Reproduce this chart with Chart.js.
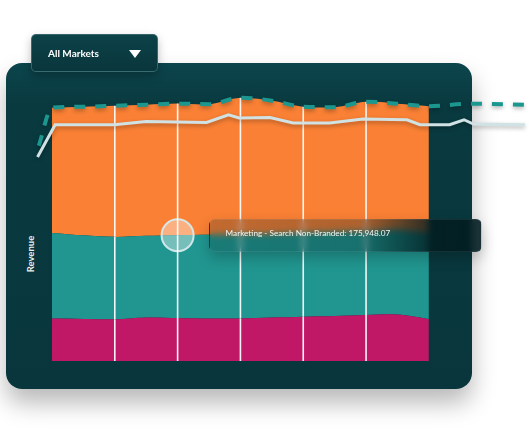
<!DOCTYPE html>
<html>
<head>
<meta charset="utf-8">
<script src="https://cdn.jsdelivr.net/npm/chart.js@4/dist/chart.umd.min.js"></script>
<style>
  html,body{margin:0;padding:0;background:#fff;}
  body{width:532px;height:446px;overflow:hidden;position:relative;font-family:Lato,"Open Sans",sans-serif;}
  #panel{position:absolute;left:6px;top:63px;width:466px;height:326px;border-radius:16px;
    background:linear-gradient(180deg,#0c454c 0px,#093a40 40px,#08363c 100%);
    box-shadow:0 14px 24px rgba(0,0,0,0.28);}
  #ylabel{position:absolute;left:29.5px;top:254px;transform:translate(-50%,-50%) rotate(-90deg);
    color:#e8f0f0;font-size:9.5px;font-weight:700;white-space:nowrap;}
  #c{position:absolute;left:0;top:0;}
  #dropdown{position:absolute;left:31px;top:34px;width:127px;height:38px;box-sizing:border-box;border-radius:5px;
    background:linear-gradient(180deg,#0c4248,#09363c);border:1px solid rgba(140,190,190,0.35);
    box-shadow:0 4px 10px rgba(0,0,0,0.25);}
  #dropdown span{position:absolute;left:16px;top:50%;transform:translateY(-50%);color:#fff;font-size:10px;font-weight:700;}
  #dropdown i{position:absolute;left:97px;top:15px;width:0;height:0;border-left:6.5px solid transparent;border-right:6.5px solid transparent;border-top:8px solid #fff;}
  #tip{position:absolute;height:33px;width:273px;box-sizing:border-box;border-radius:6px;
    background:linear-gradient(90deg,rgba(2,28,32,0.22) 0%,rgba(2,28,32,0.3) 55%,rgba(2,28,32,0.85) 82%,rgba(2,28,32,0.9) 100%);
    backdrop-filter:blur(3px);-webkit-backdrop-filter:blur(3px);
    border:1px solid rgba(255,255,255,0.08);box-shadow:0 6px 14px rgba(0,0,0,0.22);
    color:#f2f6f6;font-size:8.2px;padding:0 0 4px 16px;display:flex;align-items:center;white-space:nowrap;}
</style>
</head>
<body>
<div id="panel"></div>
<div id="ylabel">Revenue</div>
<canvas id="c" width="532" height="446"></canvas>
<div id="dropdown"><span>All Markets</span><i></i></div>
<div id="tip"></div>
<script>
// ---- data ----
const periods = [0, 0.5, 1, 1.5, 2, 2.5, 3, 3.5, 4, 4.5, 5, 5.5, 6];
const seriesNames = ['Marketing - Display', 'Marketing - Search Non-Branded', 'Marketing - Search Branded'];
const displayRev    = [90500, 89500, 88800, 92700, 91600, 90500, 90500, 92700, 94400, 95900, 98000, 99000, 89500];
const nonBrandedRev = [182100, 177900, 175300, 173600, 175948.07, 177900, 178900, 177900, 178300, 178900, 177900, 181000, 183200];
const brandedRev    = [266300, 273700, 279000, 279000, 280100, 278000, 290700, 283300, 268400, 265200, 275800, 267300, 269400];
const forecastName = 'Forecast';
const forecastX   = [-0.21, 0, 0.5, 1, 1.5, 2, 2.5, 3, 3.5, 4, 4.5, 5, 5.5, 6, 6.65, 7.56];
const forecastRev = [458000, 538900, 541100, 543100, 545300, 547600, 546400, 560100, 553900, 541100, 540000, 551700, 547300, 542100, 547400, 545300];
const targetName = 'Target';
const targetX   = [-0.23, 0.05, 0.99, 1.5, 2.46, 2.81, 2.98, 3.47, 3.84, 4.42, 4.95, 5.65, 5.86, 6.33, 6.56, 6.71, 7.53];
const targetRev = [433900, 502700, 502700, 509700, 507600, 524000, 517000, 518200, 506300, 506300, 514800, 513300, 502700, 502700, 513300, 504200, 502700];
const gridPeriods = [1, 2, 3, 4, 5];
const hoverIndex = 4;

const pts = (xs, ys) => xs.map((x, i) => ({x: x, y: ys[i]}));

const areaGrid = {
  id: 'areaGrid',
  beforeDatasetDraw(chart, args) {
    if (args.index >= 3) {
      const c = chart.ctx; c.save();
      c.shadowColor = 'rgba(0,0,0,0.3)'; c.shadowBlur = 4; c.shadowOffsetY = 2;
    }
  },
  afterDatasetDraw(chart, args) {
    if (args.index >= 3) { chart.ctx.restore(); return; }
    if (args.index === 0) {
      const c = chart.ctx, xs = chart.scales.x, a = chart.chartArea;
      c.save();
      c.globalCompositeOperation = 'source-atop';
      c.strokeStyle = 'rgba(255,255,255,0.95)';
      c.lineWidth = 1.6;
      gridPeriods.forEach(p => {
        const x = xs.getPixelForValue(p);
        c.beginPath(); c.moveTo(x, a.top); c.lineTo(x, a.bottom + 2); c.stroke();
      });
      c.restore();
    }
  }
};

const areaBase = {type: 'line', borderWidth: 0, pointRadius: 0, tension: 0.3, order: 1};
const chart = new Chart(document.getElementById('c'), {
  type: 'line',
  data: {
    datasets: [
      Object.assign({}, areaBase, {label: seriesNames[0], data: pts(periods, displayRev),
        backgroundColor: '#c01866', borderColor: '#c01866', fill: 'origin'}),
      Object.assign({}, areaBase, {label: seriesNames[1], data: pts(periods, nonBrandedRev),
        backgroundColor: '#219690', borderColor: '#219690', fill: '-1',
        pointRadius: periods.map((_, i) => i === hoverIndex ? 16 : 0),
        pointBackgroundColor: 'rgba(255,255,255,0.38)', pointBorderColor: 'rgba(214,234,236,0.95)', pointBorderWidth: 2}),
      Object.assign({}, areaBase, {label: seriesNames[2], data: pts(periods, brandedRev),
        backgroundColor: '#f98035', borderColor: '#f98035', fill: '-1'}),
      {label: targetName, data: pts(targetX, targetRev), stack: 'target', order: 0,
        borderColor: '#d0e2e4', borderWidth: 3, pointRadius: 0, tension: 0, fill: false},
      {label: forecastName, data: pts(forecastX, forecastRev), stack: 'forecast', order: 0,
        borderColor: '#1c978f', borderWidth: 4, borderDash: [11, 10], pointRadius: 0,
        cubicInterpolationMode: 'monotone', fill: false}
    ]
  },
  options: {
    responsive: false, animation: false, devicePixelRatio: 1, events: [],
    layout: {padding: {left: 30, right: 2, top: 79, bottom: 85}},
    plugins: {legend: {display: false}, tooltip: {enabled: false}},
    scales: {
      x: {type: 'linear', min: -0.35, max: 7.61, display: false},
      y: {stacked: true, min: 0, max: 600000, display: false}
    }
  },
  plugins: [areaGrid]
});

// tooltip for the hovered point
const el = chart.getDatasetMeta(1).data[hoverIndex];
const tip = document.getElementById('tip');
tip.textContent = seriesNames[1] + ': ' + nonBrandedRev[hoverIndex].toLocaleString('en-US', {minimumFractionDigits: 2, maximumFractionDigits: 2});
tip.style.left = (el.x + 31) + 'px';
tip.style.top = (el.y - 16.5) + 'px';
</script>
</body>
</html>
